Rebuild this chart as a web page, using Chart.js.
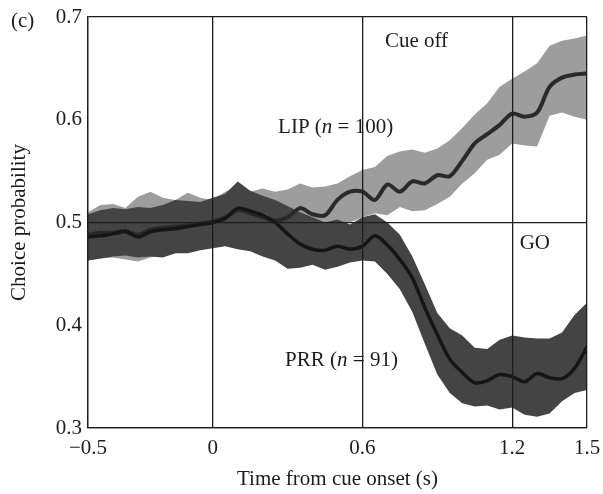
<!DOCTYPE html>
<html>
<head>
<meta charset="utf-8">
<script src="https://cdn.jsdelivr.net/npm/chart.js@4/dist/chart.umd.min.js"></script>
<style>
  html, body { margin: 0; padding: 0; background: #fff; }
  #wrap { width: 603px; height: 494px; position: relative; }
</style>
</head>
<body>
<div id="wrap"><canvas id="cp"></canvas></div>
<script>
// time axis (s from cue onset), sampled every 50 ms
const timeSec = [-0.50, -0.45, -0.40, -0.35, -0.30, -0.25, -0.20, -0.15, -0.10, -0.05,
  0.00, 0.05, 0.10, 0.15, 0.20, 0.25, 0.30, 0.35, 0.40, 0.45,
  0.50, 0.55, 0.60, 0.65, 0.70, 0.75, 0.80, 0.85, 0.90, 0.95,
  1.00, 1.05, 1.10, 1.15, 1.20, 1.25, 1.30, 1.35, 1.40, 1.45, 1.50];

// LIP (n = 100)
const lipMean = [0.488, 0.490, 0.490, 0.492, 0.488, 0.493, 0.495, 0.496, 0.497, 0.499,
  0.501, 0.505, 0.512, 0.509, 0.505, 0.502, 0.505, 0.514, 0.508, 0.507,
  0.522, 0.530, 0.530, 0.522, 0.537, 0.530, 0.540, 0.538, 0.546, 0.545,
  0.560, 0.577, 0.586, 0.595, 0.606, 0.603, 0.607, 0.632, 0.641, 0.644, 0.645];
const lipUpper = [0.510, 0.517, 0.518, 0.514, 0.525, 0.530, 0.524, 0.522, 0.529, 0.524,
  0.522, 0.530, 0.536, 0.530, 0.533, 0.530, 0.532, 0.538, 0.534, 0.535,
  0.538, 0.545, 0.551, 0.554, 0.565, 0.569, 0.571, 0.568, 0.572, 0.580,
  0.592, 0.605, 0.616, 0.632, 0.640, 0.647, 0.655, 0.672, 0.677, 0.679, 0.682];
const lipLower = [0.463, 0.465, 0.466, 0.464, 0.462, 0.466, 0.468, 0.470, 0.472, 0.474,
  0.478, 0.480, 0.478, 0.483, 0.481, 0.484, 0.488, 0.492, 0.486, 0.492,
  0.495, 0.500, 0.505, 0.509, 0.507, 0.515, 0.511, 0.512, 0.518, 0.525,
  0.538, 0.548, 0.561, 0.566, 0.577, 0.575, 0.574, 0.604, 0.607, 0.603, 0.600];

// PRR (n = 91)
const prrMean = [0.486, 0.487, 0.489, 0.491, 0.486, 0.491, 0.493, 0.494, 0.496, 0.498,
  0.500, 0.504, 0.514, 0.511, 0.507, 0.500, 0.489, 0.479, 0.474, 0.473,
  0.477, 0.474, 0.477, 0.487, 0.478, 0.464, 0.446, 0.417, 0.391, 0.367,
  0.354, 0.344, 0.346, 0.352, 0.350, 0.345, 0.353, 0.349, 0.348, 0.358, 0.379];
const prrUpper = [0.508, 0.512, 0.514, 0.513, 0.515, 0.514, 0.517, 0.522, 0.521, 0.520,
  0.524, 0.528, 0.540, 0.531, 0.526, 0.522, 0.516, 0.510, 0.505, 0.500,
  0.503, 0.498, 0.505, 0.508, 0.500, 0.488, 0.467, 0.440, 0.412, 0.397,
  0.390, 0.378, 0.377, 0.386, 0.390, 0.388, 0.387, 0.387, 0.393, 0.410, 0.422];
const prrLower = [0.463, 0.465, 0.467, 0.468, 0.466, 0.467, 0.466, 0.470, 0.470, 0.473,
  0.475, 0.477, 0.474, 0.472, 0.467, 0.463, 0.455, 0.456, 0.459, 0.454,
  0.457, 0.461, 0.463, 0.462, 0.450, 0.435, 0.413, 0.382, 0.352, 0.334,
  0.324, 0.321, 0.322, 0.318, 0.320, 0.313, 0.311, 0.314, 0.326, 0.334, 0.337];

const xTicks = [-0.5, 0, 0.6, 1.2, 1.5];
const yTicks = [0.3, 0.4, 0.5, 0.6, 0.7];
const yGridAt = [0.3, 0.5, 0.7];

const serif = '"Liberation Serif", "Times New Roman", serif';
const ink = '#1c1c1c';

function pts(ys) { return timeSec.map((t, i) => ({ x: t, y: ys[i] })); }

function band(ys, fillTo, color, order) {
  return {
    data: pts(ys), fill: fillTo, backgroundColor: color,
    borderWidth: 0, pointRadius: 0, tension: 0, order: order
  };
}

// text labels placed in data coordinates
const labels = [
  { x: 0.69, y: 0.676, parts: [['Cue off', '']] },
  { x: 0.262, y: 0.592, parts: [['LIP (', ''], ['n', 'italic '], [' = 100)', '']] },
  { x: 0.29, y: 0.366, parts: [['PRR (', ''], ['n', 'italic '], [' = 91)', '']] },
  { x: 1.23, y: 0.48, parts: [['GO', '']] }
];

const textPlugin = {
  id: 'texts',
  afterDraw(chart) {
    const ctx = chart.ctx, sx = chart.scales.x, sy = chart.scales.y;
    ctx.save();
    ctx.fillStyle = ink;
    ctx.textBaseline = 'middle';
    ctx.textAlign = 'left';
    labels.forEach(l => {
      let px = sx.getPixelForValue(l.x);
      const py = sy.getPixelForValue(l.y);
      l.parts.forEach(p => {
        ctx.font = p[1] + '21px ' + serif;
        ctx.fillText(p[0], px, py);
        px += ctx.measureText(p[0]).width;
      });
    });
    ctx.font = '21px ' + serif;
    ctx.fillText('(c)', 11, 21);
    ctx.restore();
  }
};

new Chart(document.getElementById('cp'), {
  type: 'line',
  data: {
    datasets: [
      band(lipUpper, 1, '#9d9d9d', 5),
      band(lipLower, false, '#9d9d9d', 5),
      band(prrUpper, 3, '#444444', 4),
      band(prrLower, false, '#444444', 4),
      { data: pts(lipMean), borderColor: '#2a2a2a', borderWidth: 4, pointRadius: 0, tension: 0.3, fill: false, order: 2 },
      { data: pts(prrMean), borderColor: '#151515', borderWidth: 3.5, pointRadius: 0, tension: 0.3, fill: false, order: 1 }
    ]
  },
  options: {
    responsive: true,
    maintainAspectRatio: false,
    animation: false,
    layout: { padding: { top: 17, right: 16, left: 0, bottom: 0 } },
    plugins: { legend: { display: false }, tooltip: { enabled: false } },
    scales: {
      x: {
        type: 'linear', min: -0.5, max: 1.5,
        afterBuildTicks: s => { s.ticks = xTicks.map(v => ({ value: v })); },
        afterFit: s => { s.height = 66; s.paddingLeft = 0; s.paddingRight = 0; },
        ticks: {
          color: ink, padding: 8,
          font: { family: serif, size: 21 },
          callback: v => v < 0 ? '\u2212' + Math.abs(v).toFixed(1) : (v === 0 ? '0' : v.toFixed(1))
        },
        grid: { color: ink, lineWidth: 1.3, drawTicks: false, z: 1 },
        border: { color: ink, width: 1.3, z: 1 },
        title: { display: true, text: 'Time from cue onset (s)', color: ink, font: { family: serif, size: 21 }, padding: { top: 0, bottom: 2 } }
      },
      y: {
        min: 0.3, max: 0.7,
        afterBuildTicks: s => { s.ticks = yTicks.map(v => ({ value: v })); },
        afterFit: s => { s.width = 88; s.paddingTop = 0; s.paddingBottom = 0; },
        ticks: {
          color: ink, padding: 6,
          font: { family: serif, size: 21 },
          callback: v => v.toFixed(1)
        },
        grid: {
          color: c => (c.tick && yGridAt.some(g => Math.abs(g - c.tick.value) < 1e-6)) ? ink : 'rgba(0,0,0,0)',
          lineWidth: 1.3, drawTicks: false, z: 1
        },
        border: { color: ink, width: 1.3, z: 1 },
        title: { display: true, text: 'Choice probability', color: ink, font: { family: serif, size: 21 }, padding: { top: 7, bottom: 0 } }
      }
    }
  },
  plugins: [textPlugin]
});
</script>
</body>
</html>
